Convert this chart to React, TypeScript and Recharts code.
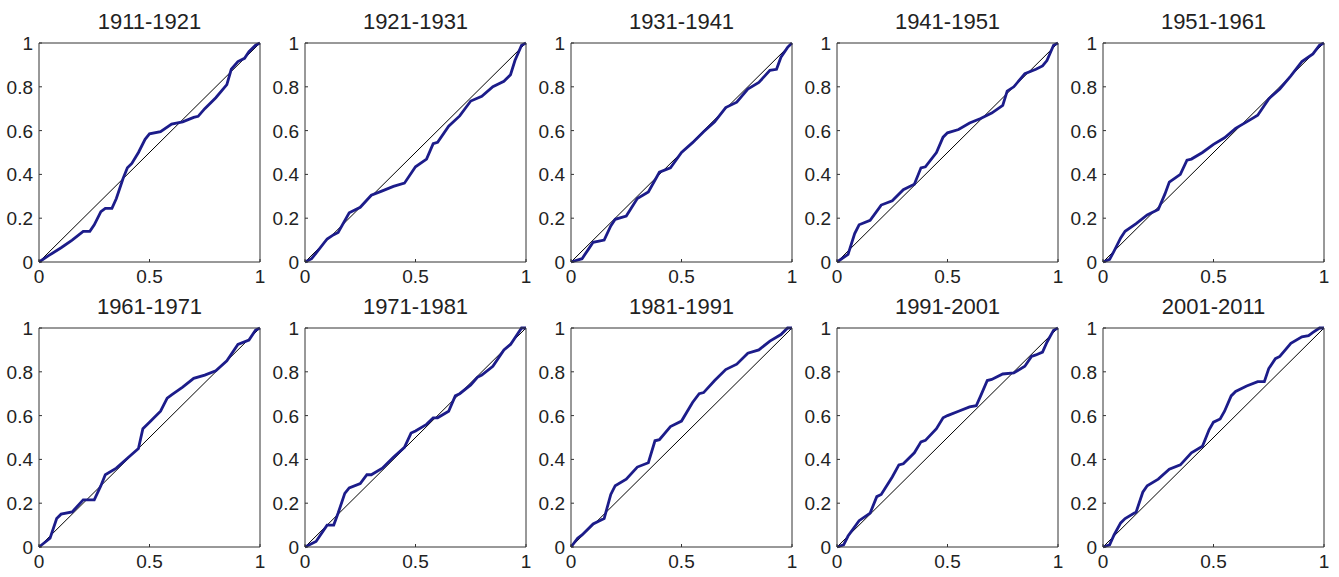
import React from "react";
import { LineChart, Line, XAxis, YAxis } from "recharts";

// decade titles, one panel each
const titles = [
  "1911-1921", "1921-1931", "1931-1941", "1941-1951", "1951-1961",
  "1961-1971", "1971-1981", "1981-1991", "1991-2001", "2001-2011",
];

const xTicks = [0, 0.5, 1];
const yTicks = [0, 0.2, 0.4, 0.6, 0.8, 1];
const diagonal = [[0, 0], [1, 1]];

// curves, [x, y]
const p1911 = [[0,0],[0.045,0.03],[0.1,0.065],[0.15,0.1],[0.2,0.14],[0.23,0.14],[0.25,0.17],[0.28,0.23],[0.3,0.245],[0.33,0.245],[0.35,0.29],[0.38,0.38],[0.4,0.43],[0.42,0.45],[0.45,0.5],[0.48,0.56],[0.5,0.585],[0.55,0.595],[0.6,0.63],[0.65,0.64],[0.7,0.66],[0.72,0.665],[0.75,0.7],[0.8,0.75],[0.85,0.81],[0.87,0.88],[0.9,0.915],[0.93,0.93],[0.95,0.96],[0.98,0.99],[1,1]];
const p1921 = [[0,0],[0.03,0.015],[0.05,0.04],[0.1,0.105],[0.13,0.125],[0.15,0.135],[0.2,0.225],[0.25,0.25],[0.3,0.305],[0.35,0.325],[0.4,0.345],[0.45,0.36],[0.5,0.435],[0.55,0.47],[0.58,0.54],[0.6,0.547],[0.65,0.62],[0.7,0.667],[0.75,0.735],[0.8,0.757],[0.85,0.8],[0.9,0.825],[0.93,0.855],[0.95,0.92],[0.98,0.99],[1,1]];
const p1931 = [[0,0],[0.05,0.015],[0.08,0.06],[0.1,0.09],[0.15,0.1],[0.18,0.165],[0.2,0.195],[0.25,0.21],[0.3,0.29],[0.35,0.32],[0.4,0.41],[0.45,0.43],[0.5,0.5],[0.55,0.545],[0.6,0.595],[0.65,0.64],[0.7,0.705],[0.75,0.73],[0.8,0.79],[0.85,0.82],[0.9,0.875],[0.93,0.88],[0.95,0.935],[0.98,0.98],[1,1]];
const p1941 = [[0,0],[0.05,0.035],[0.08,0.13],[0.1,0.17],[0.15,0.19],[0.2,0.26],[0.25,0.28],[0.3,0.33],[0.35,0.355],[0.38,0.43],[0.4,0.435],[0.45,0.5],[0.48,0.57],[0.5,0.59],[0.55,0.605],[0.6,0.635],[0.65,0.655],[0.7,0.68],[0.75,0.715],[0.77,0.78],[0.8,0.8],[0.85,0.86],[0.9,0.88],[0.93,0.895],[0.95,0.92],[0.98,0.99],[1,1]];
const p1951 = [[0,0],[0.03,0.012],[0.05,0.05],[0.08,0.11],[0.1,0.14],[0.15,0.175],[0.2,0.215],[0.25,0.24],[0.28,0.31],[0.3,0.365],[0.35,0.4],[0.38,0.465],[0.4,0.47],[0.45,0.5],[0.5,0.537],[0.55,0.567],[0.6,0.61],[0.65,0.64],[0.7,0.67],[0.75,0.745],[0.8,0.79],[0.85,0.85],[0.9,0.915],[0.95,0.95],[0.98,0.99],[1,1]];
const p1961 = [[0,0],[0.05,0.04],[0.08,0.13],[0.1,0.15],[0.15,0.16],[0.2,0.215],[0.25,0.215],[0.28,0.28],[0.3,0.33],[0.35,0.36],[0.4,0.405],[0.45,0.45],[0.47,0.54],[0.5,0.57],[0.55,0.62],[0.58,0.68],[0.6,0.695],[0.65,0.73],[0.7,0.77],[0.75,0.785],[0.8,0.805],[0.85,0.85],[0.9,0.925],[0.95,0.945],[0.98,0.99],[1,1]];
const p1971 = [[0,0],[0.05,0.025],[0.1,0.1],[0.13,0.1],[0.15,0.155],[0.18,0.245],[0.2,0.27],[0.25,0.29],[0.28,0.33],[0.3,0.33],[0.35,0.36],[0.4,0.41],[0.45,0.455],[0.48,0.52],[0.5,0.53],[0.55,0.56],[0.58,0.59],[0.6,0.59],[0.65,0.62],[0.68,0.69],[0.7,0.7],[0.75,0.74],[0.78,0.775],[0.8,0.785],[0.85,0.825],[0.9,0.9],[0.93,0.925],[0.98,1],[1,1]];
const p1981 = [[0,0],[0.03,0.04],[0.05,0.055],[0.1,0.105],[0.15,0.13],[0.18,0.24],[0.2,0.28],[0.25,0.31],[0.3,0.365],[0.35,0.385],[0.38,0.485],[0.4,0.49],[0.45,0.55],[0.5,0.575],[0.55,0.66],[0.58,0.7],[0.6,0.705],[0.65,0.76],[0.7,0.81],[0.75,0.835],[0.8,0.885],[0.85,0.9],[0.9,0.94],[0.95,0.97],[0.98,1],[1,1]];
const p1991 = [[0,0],[0.03,0.01],[0.05,0.05],[0.1,0.12],[0.15,0.155],[0.18,0.23],[0.2,0.24],[0.25,0.32],[0.28,0.375],[0.3,0.38],[0.35,0.43],[0.38,0.48],[0.4,0.487],[0.45,0.54],[0.48,0.59],[0.5,0.6],[0.55,0.62],[0.6,0.64],[0.63,0.645],[0.65,0.69],[0.68,0.76],[0.7,0.765],[0.75,0.79],[0.8,0.795],[0.85,0.825],[0.88,0.87],[0.9,0.877],[0.93,0.89],[0.95,0.935],[0.98,0.99],[1,1]];
const p2001 = [[0,0],[0.03,0.01],[0.05,0.055],[0.08,0.11],[0.1,0.13],[0.15,0.16],[0.18,0.25],[0.2,0.28],[0.25,0.31],[0.3,0.355],[0.35,0.375],[0.4,0.43],[0.45,0.46],[0.48,0.535],[0.5,0.57],[0.53,0.585],[0.55,0.62],[0.58,0.69],[0.6,0.71],[0.65,0.735],[0.7,0.755],[0.73,0.755],[0.75,0.815],[0.78,0.86],[0.8,0.87],[0.85,0.93],[0.9,0.96],[0.93,0.965],[0.95,0.98],[0.98,1],[1,1]];

const curves = [p1911, p1921, p1931, p1941, p1951, p1961, p1971, p1981, p1991, p2001];

const FONT = '"Liberation Sans", Arial, sans-serif';
const plotLefts = [39, 305, 571, 837, 1103];
const rowTops = [43, 328];
const PW = 221;
const PH = 219;
const YW = 38;

const toPts = (arr) => arr.map(([x, y]) => ({ x, y }));

const XTick = (props) => {
  const { x, y, payload } = props;
  return (
    <text x={x} y={y} dy={15} textAnchor="middle" fontSize={19} fontFamily={FONT} fill="#222">
      {payload.value}
    </text>
  );
};

const YTick = (props) => {
  const { x, y, payload } = props;
  return (
    <text x={x} y={y} dy={7} textAnchor="end" fontSize={19} fontFamily={FONT} fill="#222">
      {payload.value}
    </text>
  );
};

function Panel({ i }) {
  const col = i % 5;
  const row = Math.floor(i / 5);
  const left = plotLefts[col];
  const top = rowTops[row];
  return (
    <>
      <div
        style={{
          position: "absolute",
          left: left - 40,
          width: PW + 80,
          top: top - 34,
          textAlign: "center",
          fontFamily: FONT,
          fontSize: 22,
          color: "#222",
          lineHeight: "25px",
        }}
      >
        {titles[i]}
      </div>
      <div style={{ position: "absolute", left: left - YW, top: top - 10 }}>
        <LineChart width={YW + PW + 12} height={10 + PH + 30} margin={{ top: 9, right: 11, left: 0, bottom: 0 }}>
          <XAxis
            xAxisId="b"
            type="number"
            dataKey="x"
            domain={[0, 1]}
            ticks={xTicks}
            height={30}
            tickSize={-3}
            tickMargin={9}
            tick={XTick}
            stroke="#333"
          />
          <XAxis
            xAxisId="t"
            orientation="top"
            type="number"
            dataKey="x"
            domain={[0, 1]}
            ticks={xTicks}
            height={1}
            tickSize={-3}
            tickFormatter={() => ""}
            stroke="#333"
          />
          <YAxis
            yAxisId="l"
            type="number"
            domain={[0, 1]}
            ticks={yTicks}
            width={YW}
            tickSize={-3}
            tickMargin={9}
            tick={YTick}
            stroke="#333"
          />
          <YAxis
            yAxisId="r"
            orientation="right"
            type="number"
            domain={[0, 1]}
            ticks={yTicks}
            width={1}
            tickSize={-3}
            tickFormatter={() => ""}
            stroke="#333"
          />
          <Line
            xAxisId="b"
            yAxisId="l"
            data={toPts(diagonal)}
            dataKey="y"
            type="linear"
            dot={false}
            stroke="#000"
            strokeWidth={1}
            isAnimationActive={false}
          />
          <Line
            xAxisId="b"
            yAxisId="l"
            data={toPts(curves[i])}
            dataKey="y"
            type="linear"
            dot={false}
            stroke="#1c1c8a"
            strokeWidth={2.8}
            isAnimationActive={false}
          />
        </LineChart>
      </div>
    </>
  );
}

export default function App() {
  return (
    <div style={{ position: "absolute", left: 0, top: 0, width: 1339, height: 577, background: "#fff", overflow: "hidden" }}>
      {titles.map((t, i) => (
        <Panel key={t} i={i} />
      ))}
    </div>
  );
}
